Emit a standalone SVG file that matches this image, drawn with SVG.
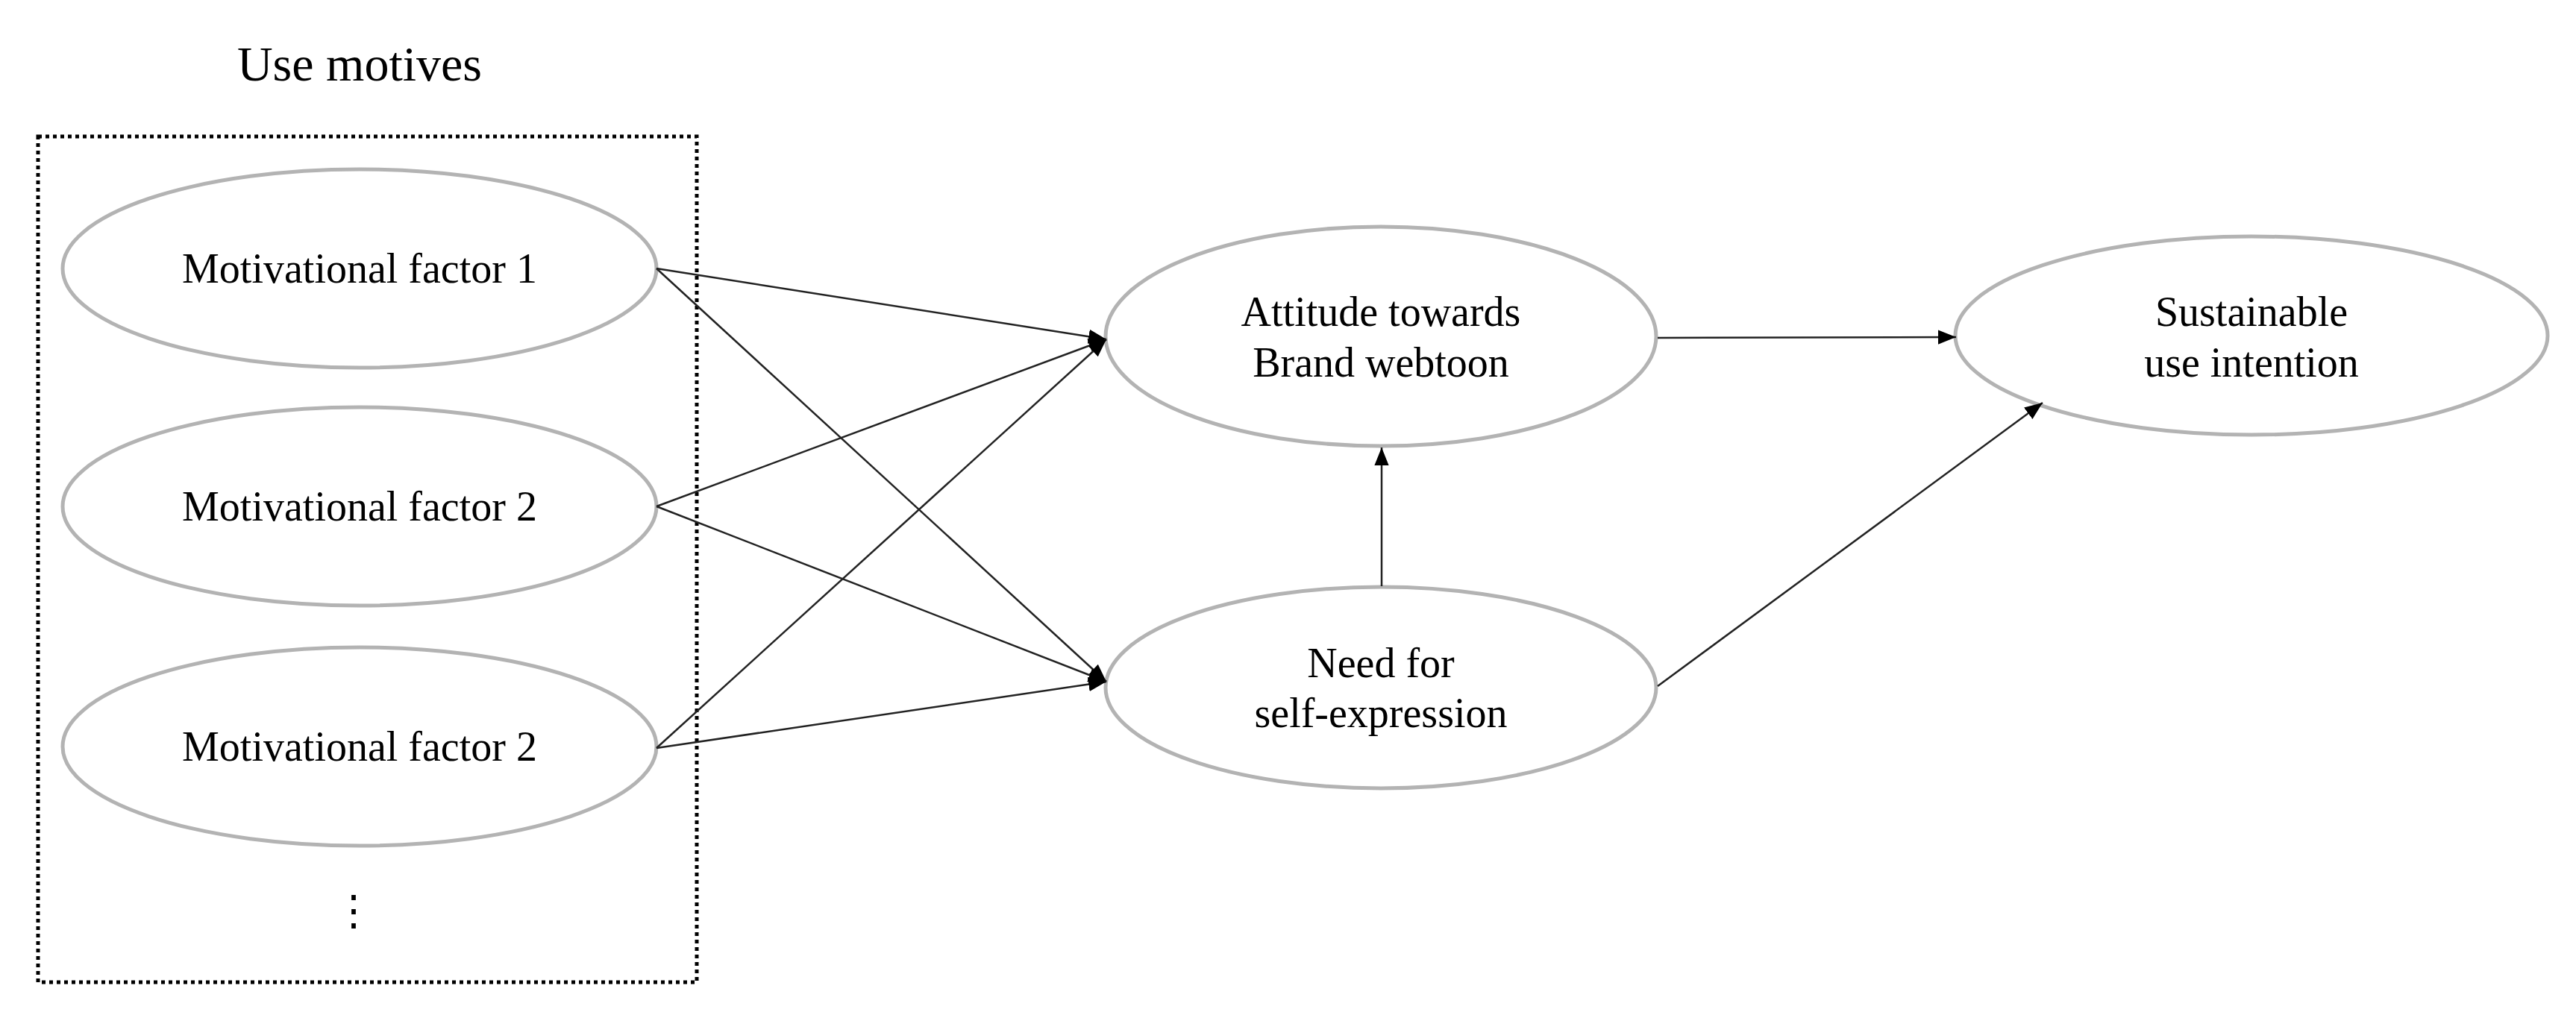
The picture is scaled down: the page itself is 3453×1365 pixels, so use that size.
<svg xmlns="http://www.w3.org/2000/svg" width="3453" height="1365" viewBox="0 0 3453 1365">
<style>
.n{fill:#fff;stroke:#b3b3b3;stroke-width:5}
.t{font-family:"Liberation Serif",serif;font-size:56px;fill:#000;text-anchor:middle}
</style>
<defs>
<marker id="ah2" viewBox="0 0 10 10" refX="10" refY="5" markerWidth="24" markerHeight="24" markerUnits="userSpaceOnUse" orient="auto"><path d="M0,1L10,5L0,9z" fill="#000"/></marker></defs>
<rect width="3453" height="1365" fill="#fff"/>
<g id="group">
<text class="t" x="482" y="108" style="font-size:66px">Use motives</text>
<rect x="51" y="183" width="883" height="1134" fill="none" stroke="#000" stroke-width="5" stroke-dasharray="5,5"/>
<text class="t" x="474" y="1240">⋮</text>
</g>
<g id="m1"><ellipse class="n" cx="482" cy="360" rx="398" ry="133"/><text class="t" x="482" y="379">Motivational factor 1</text></g>
<g id="m2"><ellipse class="n" cx="482" cy="679" rx="398" ry="133"/><text class="t" x="482" y="698">Motivational factor 2</text></g>
<g id="m3"><ellipse class="n" cx="482" cy="1001" rx="398" ry="133"/><text class="t" x="482" y="1020">Motivational factor 2</text></g>
<g id="att"><ellipse class="n" cx="1851" cy="451" rx="369" ry="147"/><text class="t" x="1851" y="437">Attitude towards</text><text class="t" x="1851" y="505">Brand webtoon</text></g>
<g id="need"><ellipse class="n" cx="1851" cy="922" rx="369" ry="135"/><text class="t" x="1851" y="908">Need for</text><text class="t" x="1851" y="975">self-expression</text></g>
<g id="sus"><ellipse class="n" cx="3018" cy="450" rx="397" ry="133"/><text class="t" x="3018" y="437">Sustainable</text><text class="t" x="3018" y="505">use intention</text></g>
<g id="connectors" stroke="#222" stroke-width="2.5" fill="none">
<path d="M880,360L1483,455" marker-end="url(#ah2)"/>
<path d="M880,360L1483,914" marker-end="url(#ah2)"/>
<path d="M880,679L1483,455" marker-end="url(#ah2)"/>
<path d="M880,679L1483,914" marker-end="url(#ah2)"/>
<path d="M880,1003L1483,455" marker-end="url(#ah2)"/>
<path d="M880,1003L1483,914" marker-end="url(#ah2)"/>
<path d="M2222,453L2622,452" marker-end="url(#ah2)"/>
<path d="M1852,786L1852,600" marker-end="url(#ah2)"/>
<path d="M2222,920L2738,540" marker-end="url(#ah2)"/>
</g>
</svg>
